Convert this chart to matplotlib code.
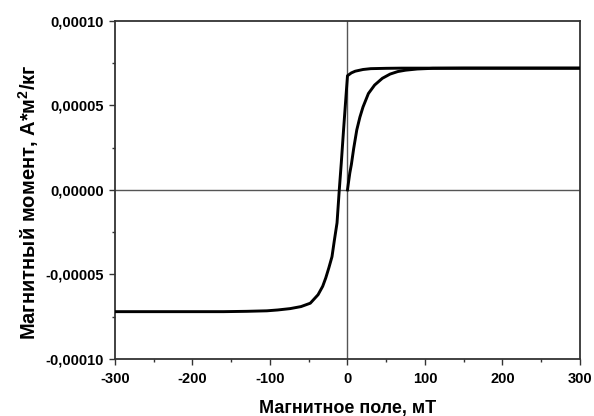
import matplotlib
matplotlib.use("Agg")
import matplotlib.pyplot as plt
from matplotlib.ticker import FuncFormatter, MultipleLocator
import numpy as np

plt.rcParams['font.family'] = ['Liberation Sans', 'DejaVu Sans']
plt.rcParams['font.weight'] = 'bold'
plt.rcParams['mathtext.fontset'] = 'custom'
plt.rcParams['mathtext.rm'] = 'Liberation Sans:bold'
plt.rcParams['mathtext.bf'] = 'Liberation Sans:bold'

# нисходящая ветвь петли (поле от +300 до -300 мТ), момент в 1e-5 А*м2/кг
field_down = [300, 200, 100, 70, 50, 30, 20, 10, 5, 2, 0, -2, -5, -8, -10.6, -13.5,
              -17, -20, -24, -28, -32, -38, -48, -60, -74, -90, -104, -130, -160, -200, -300]
moment_down = [7.2, 7.2, 7.2, 7.2, 7.19, 7.17, 7.12, 7.02, 6.92, 6.82, 6.75, 5.5, 3.6, 1.6, 0.0, -1.95,
               -3.0, -3.95, -4.6, -5.2, -5.7, -6.2, -6.7, -6.9, -7.02, -7.1, -7.15, -7.18, -7.2, -7.2, -7.2]

# начальная кривая намагничивания
field_init = [0, 1, 3, 5, 8, 12, 16, 20, 27, 35, 45, 55, 65, 75, 90, 110, 150, 300]
moment_init = [0, 0.35, 1.0, 1.5, 2.45, 3.55, 4.3, 4.9, 5.7, 6.2, 6.6, 6.85, 7.0, 7.08, 7.15, 7.19, 7.2, 7.2]

fig = plt.figure(figsize=(5.94, 4.16), dpi=100)
ax = fig.add_axes([0.1936, 0.137, 0.7828, 0.813])

ax.axhline(0, color='#555555', lw=1.0, zorder=1)
ax.axvline(0, color='#555555', lw=1.0, zorder=1)

ax.plot(field_down, np.array(moment_down) * 1e-5, color='black', lw=2.1, zorder=3)
ax.plot(field_init, np.array(moment_init) * 1e-5, color='black', lw=2.1, zorder=3)

ax.set_xlim(-300, 300)
ax.set_ylim(-0.0001, 0.0001)
ax.xaxis.set_major_locator(MultipleLocator(100))
ax.xaxis.set_minor_locator(MultipleLocator(50))
ax.yaxis.set_major_locator(MultipleLocator(0.00005))
ax.yaxis.set_minor_locator(MultipleLocator(0.000025))


def fmt_y(v, pos):
    s = "%.5f" % v
    if s.startswith('-') and float(s) == 0:
        s = s[1:]
    return s.replace('.', ',')


ax.yaxis.set_major_formatter(FuncFormatter(fmt_y))
ax.xaxis.set_major_formatter(FuncFormatter(lambda v, p: "%d" % v))

ax.tick_params(which='major', direction='out', length=4.5, width=1.0, labelsize=10.5, color='#333333')
ax.tick_params(which='minor', direction='out', length=2.5, width=1.0, color='#333333')
ax.tick_params(axis='x', which='major', pad=5)
ax.tick_params(top=False, right=False, which='both')
for lab in ax.get_xticklabels() + ax.get_yticklabels():
    lab.set_fontweight('bold')

for sp in ax.spines.values():
    sp.set_color('#333333')
    sp.set_linewidth(1.3)

ax.set_xlabel('Магнитное поле, мТ', fontsize=13, fontweight='bold', va='center')
ax.xaxis.set_label_coords(0.5, -0.145)
ax.set_ylabel('Магнитный момент, А*м$^{2}$/кг', fontsize=14.5, fontweight='bold', va='center')
ax.yaxis.set_label_coords(-0.185, 0.464)

fig.savefig('out.png', dpi=100)
